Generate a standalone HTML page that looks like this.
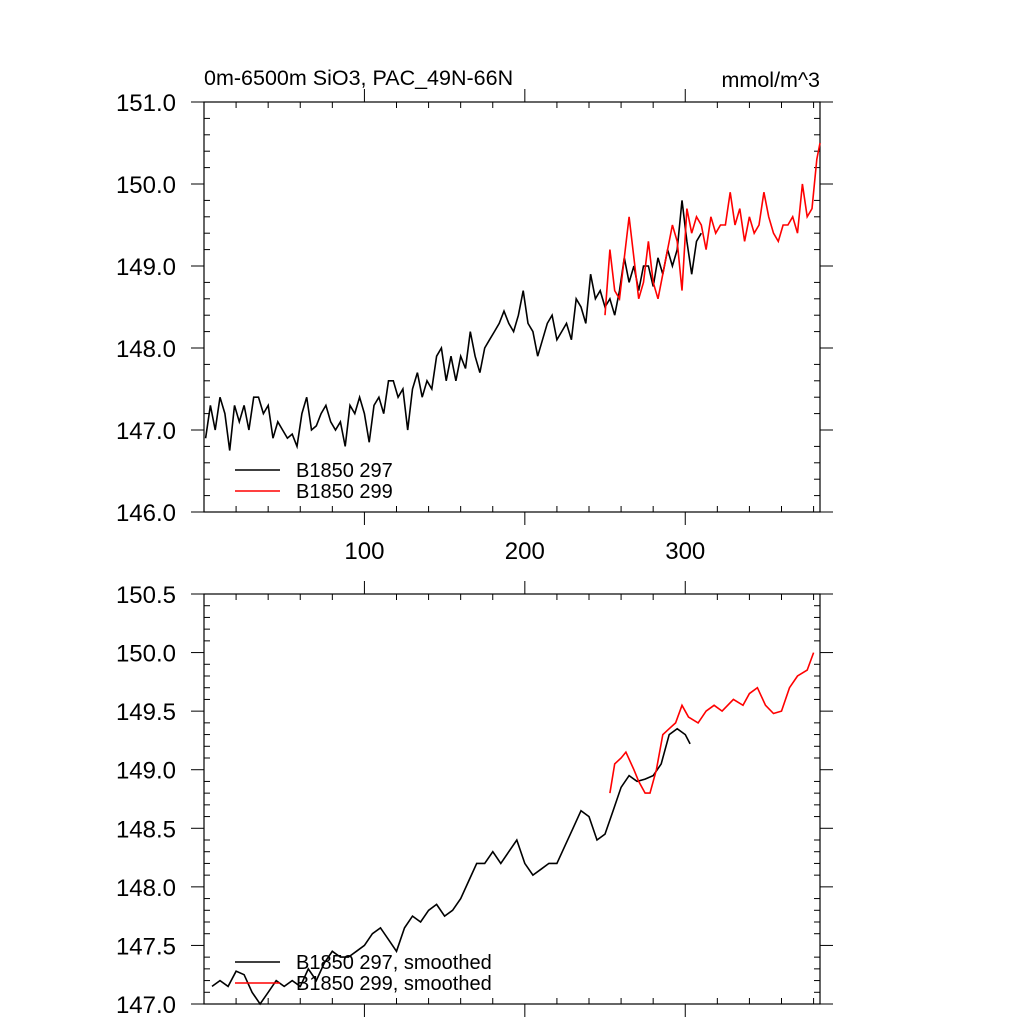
<!DOCTYPE html>
<html><head><meta charset="utf-8"><style>
body{margin:0;background:#fff}
svg text{font-family:"Liberation Sans",sans-serif;fill:#000}
</style></head><body>
<svg id="c" width="1024" height="1024"></svg>
<script>
const blackT=[1,4,7,10,13,16,19,22,25,28,31,34,37,40,43,46,49,52,55,58,61,64,67,70,73,76,79,82,85,88,91,94,97,100,103,106,109,112,115,118,121,124,127,130,133,136,139,142,145,148,151,154,157,160,163,166,169,172,175,178,181,184,187,190,193,196,199,202,205,208,211,214,217,220,223,226,229,232,235,238,241,244,247,250,253,256,259,262,265,268,271,274,277,280,283,286,289,292,295,298,301,304,307,310];
const blackV=[146.9,147.3,147.0,147.4,147.2,146.75,147.3,147.1,147.3,147.0,147.4,147.4,147.2,147.3,146.9,147.1,147.0,146.9,146.95,146.8,147.2,147.4,147.0,147.05,147.2,147.3,147.1,147.0,147.1,146.8,147.3,147.2,147.4,147.2,146.85,147.3,147.4,147.2,147.6,147.6,147.4,147.5,147.0,147.5,147.7,147.4,147.6,147.5,147.9,148.0,147.6,147.9,147.6,147.9,147.75,148.2,147.9,147.7,148.0,148.1,148.2,148.3,148.45,148.3,148.2,148.4,148.7,148.3,148.2,147.9,148.1,148.3,148.4,148.1,148.2,148.3,148.1,148.6,148.5,148.3,148.9,148.6,148.7,148.5,148.6,148.4,148.7,149.1,148.8,149.0,148.7,149.0,149.0,148.75,149.1,148.9,149.2,149.0,149.2,149.8,149.3,148.9,149.3,149.4];
const redT=[250,253,256,259,262,265,268,271,274,277,280,283,286,289,292,295,298,301,304,307,310,313,316,319,322,325,328,331,334,337,340,343,346,349,352,355,358,361,364,367,370,373,376,379,382,384];
const redV=[148.4,149.2,148.7,148.6,149.1,149.6,149.1,148.6,148.8,149.3,148.8,148.6,148.9,149.2,149.5,149.3,148.7,149.7,149.4,149.6,149.5,149.2,149.6,149.4,149.5,149.5,149.9,149.5,149.7,149.3,149.6,149.4,149.5,149.9,149.6,149.4,149.3,149.5,149.5,149.6,149.4,150.0,149.6,149.7,150.3,150.5];
const sBlackT=[5,10,15,20,25,30,35,40,45,50,55,60,65,70,75,80,85,90,95,100,105,110,115,120,125,130,135,140,145,150,155,160,165,170,175,180,185,190,195,200,205,210,215,220,225,230,235,240,245,250,255,260,265,270,275,280,285,290,295,300,303];
const sBlackV=[147.15,147.2,147.15,147.28,147.25,147.1,147.0,147.1,147.2,147.15,147.2,147.15,147.3,147.2,147.35,147.45,147.4,147.4,147.45,147.5,147.6,147.65,147.55,147.45,147.65,147.75,147.7,147.8,147.85,147.75,147.8,147.9,148.05,148.2,148.2,148.3,148.2,148.3,148.4,148.2,148.1,148.15,148.2,148.2,148.35,148.5,148.65,148.6,148.4,148.45,148.65,148.85,148.95,148.9,148.92,148.95,149.05,149.3,149.35,149.3,149.22];
const sRedT=[253,256,260,263,268,271,275,278,282,286,290,294,298,302,308,313,318,323,330,336,340,345,350,355,360,365,370,376,380];
const sRedV=[148.8,149.05,149.1,149.15,149.0,148.9,148.8,148.8,149.0,149.3,149.35,149.4,149.55,149.45,149.4,149.5,149.55,149.5,149.6,149.55,149.65,149.7,149.55,149.48,149.5,149.7,149.8,149.85,150.0];
const topTicks=[146,147,148,149,150,151];
const botTicks=[147,147.5,148,148.5,149,149.5,150,150.5];
const xTicks=[100,200,300];

const svg=document.getElementById('c');const NS='http://www.w3.org/2000/svg';
function mk(t,a,p){const e=document.createElementNS(NS,t);for(const k in a)e.setAttribute(k,a[k]);(p||svg).appendChild(e);return e;}
const X0=204,X1=820;const xs=t=>X0+(t-0)*(X1-X0)/384;
function panel(name,top,bot,ymin,ymax,yt,minorStep,showX){
  const g=mk('g',{});
  const ys=v=>bot-(v-ymin)*(bot-top)/(ymax-ymin);
  mk('rect',{x:X0,y:top,width:X1-X0,height:bot-top,fill:'none',stroke:'#000','stroke-width':1.2},g);
  for(let v=ymin;v<=ymax+1e-9;v+=minorStep){const y=ys(v);const maj=yt.some(m=>Math.abs(m-v)<1e-6);
    if(maj){mk('line',{x1:X0-13,x2:X0,y1:y,y2:y,stroke:'#000'},g);mk('line',{x1:X1,x2:X1+13,y1:y,y2:y,stroke:'#000'},g);}
    else{mk('line',{x1:X0,x2:X0+6,y1:y,y2:y,stroke:'#000'},g);mk('line',{x1:X1,x2:X1-6,y1:y,y2:y,stroke:'#000'},g);}}
  yt.forEach(v=>{const t=mk('text',{x:176,y:ys(v)+9,'text-anchor':'end','font-size':24},g);t.textContent=v.toFixed(1);});
  for(let t=20;t<384;t+=20){const x=xs(t);const maj=t%100==0;
    if(maj){mk('line',{x1:x,x2:x,y1:bot,y2:bot+13,stroke:'#000'},g);mk('line',{x1:x,x2:x,y1:top,y2:top-13,stroke:'#000'},g);}
    else{mk('line',{x1:x,x2:x,y1:bot,y2:bot-6,stroke:'#000'},g);mk('line',{x1:x,x2:x,y1:top,y2:top+6,stroke:'#000'},g);}}
  if(showX)xTicks.forEach(v=>{const t=mk('text',{x:xs(v),y:bot+47,'text-anchor':'middle','font-size':24},g);t.textContent=v;});
  return {g,ys};
}
function line(p,T,V,col,name){const d=T.map((t,i)=>(i?'L':'M')+xs(t).toFixed(1)+','+p.ys(V[i]).toFixed(1)).join('');
  const e=mk('path',{d,fill:'none',stroke:col,'stroke-width':1.6},p.g);}
function legend(p,y,col,txt,name){const g=mk('g',{},p.g);
  mk('line',{x1:235,x2:280,y1:y,y2:y,stroke:col,'stroke-width':1.6},g);const t=mk('text',{x:296,y:y+7,'font-size':20},g);t.textContent=txt;}
const p1=panel('top-panel',102,512,146,151,topTicks,0.2,true);
line(p1,blackT,blackV,'#000','series-b1850-297');line(p1,redT,redV,'#f00','series-b1850-299');
legend(p1,470,'#000','B1850 297','legend-entry-297');legend(p1,491,'#f00','B1850 299','legend-entry-299');
const p2=panel('bottom-panel',594,1004,147,150.5,botTicks,0.1,false);
line(p2,sBlackT,sBlackV,'#000','series-297-smoothed');line(p2,sRedT,sRedV,'#f00','series-299-smoothed');
legend(p2,962,'#000','B1850 297, smoothed','legend-entry-297-smoothed');legend(p2,983,'#f00','B1850 299, smoothed','legend-entry-299-smoothed');
let t=mk('text',{x:204,y:85,'font-size':21.5});t.textContent='0m-6500m SiO3, PAC_49N-66N';
t=mk('text',{x:820,y:87,'font-size':21.5,'text-anchor':'end'});t.textContent='mmol/m^3';
</script></body></html>
